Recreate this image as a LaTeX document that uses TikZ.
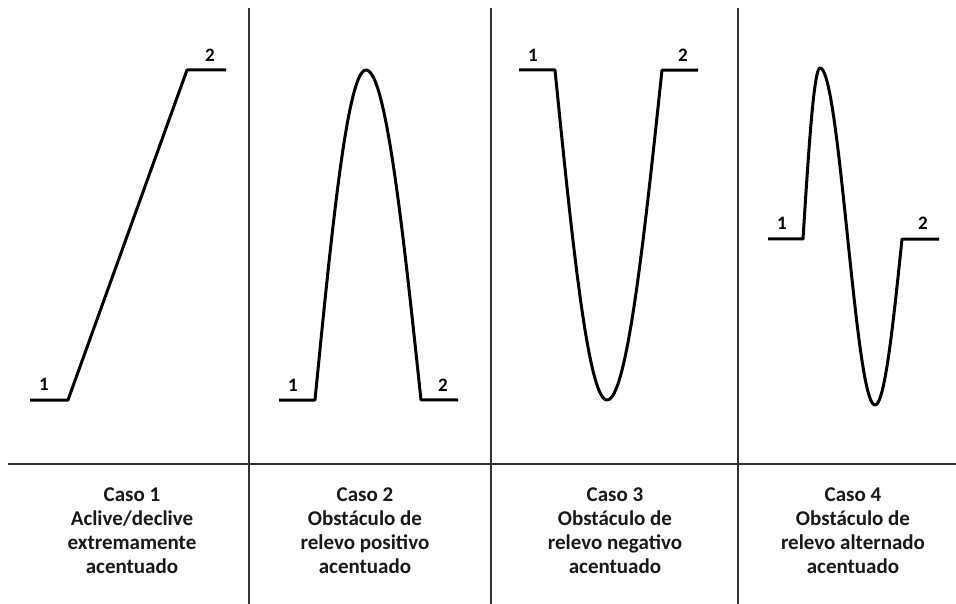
\documentclass[tikz,border=0pt]{standalone}
\usepackage{fontspec}
\setmainfont{Carlito}
\begin{document}
\begin{tikzpicture}[x=1pt,y=-1pt,
  grid/.style={line width=1.4pt, draw=black!80},
  prof/.style={line width=3pt, line join=round},
  num/.style={font=\bfseries\fontsize{19}{19}\selectfont, inner sep=0pt},
  capt/.style={font=\bfseries\fontsize{21}{23.8}\selectfont, align=center, anchor=north, inner sep=0pt, text=black!90}]
\useasboundingbox (0,0) rectangle (956,604);
% grid
\draw[grid] (249,8) -- (249,604);
\draw[grid] (491,8) -- (491,604);
\draw[grid] (738,8) -- (738,604);
\draw[grid] (8,464) -- (956,464);
% case 1
\draw[prof] (30,400) -- (68,400) -- (187,70) -- (226,70);
\node[num] (a1) at (44,384) {1};
\node[num] (a2) at (210,55) {2};
% case 2
\draw[prof] (279,400) -- (315,400)
  -- plot[domain=0:1,samples=40] ({315+51*\x},{400-330*sin(90*\x)})
  -- plot[domain=0:1,samples=40] ({366+55*\x},{70+330*(1-cos(90*\x))})
  -- (458,400);
\node[num] (b1) at (293,385) {1};
\node[num] (b2) at (443,385) {2};
% case 3
\draw[prof] (519,70) -- (555,70)
  -- plot[domain=0:1,samples=40] ({555+52*\x},{70+330*sin(90*\x)})
  -- plot[domain=0:1,samples=40] ({607+55*\x},{400-330*(1-cos(90*\x))})
  -- (698,70);
\node[num] (c1) at (533,55) {1};
\node[num] (c2) at (683,55) {2};
% case 4
\draw[prof] (768,239) -- (803,239)
  -- plot[domain=0:1,samples=30] ({803+17*\x},{239-171*sin(90*\x)})
  -- plot[domain=0:1,samples=60] ({820+55*\x},{68+337*(1-cos(180*\x))/2})
  -- plot[domain=0:1,samples=30] ({875+27*\x},{405-166*(1-cos(90*\x))})
  -- (939,239);
\node[num] (d1) at (782,223) {1};
\node[num] (d2) at (923,223) {2};
% captions
\node[capt] (cap1) at (132,488) {Caso 1\\Aclive/declive\\extremamente\\acentuado};
\node[capt] (cap2) at (365,488) {Caso 2\\Obstáculo de\\relevo positivo\\acentuado};
\node[capt] (cap3) at (615,488) {Caso 3\\Obstáculo de\\relevo negativo\\acentuado};
\node[capt] (cap4) at (853,488) {Caso 4\\Obstáculo de\\relevo alternado\\acentuado};
\end{tikzpicture}
\end{document}
